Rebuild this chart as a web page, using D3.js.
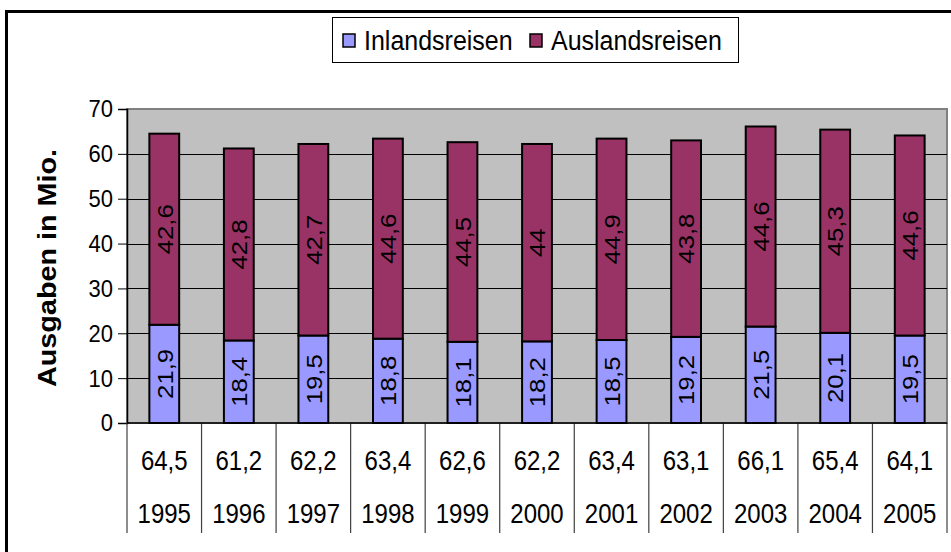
<!DOCTYPE html>
<html>
<head>
<meta charset="utf-8">
<script src="https://cdn.jsdelivr.net/npm/d3@7"></script>
<style>
  body { margin: 0; background: #fff; }
  text { font-family: Arial, "Liberation Sans", sans-serif; fill: #000; }
</style>
</head>
<body>
<div id="chart"></div>
<script>
// data
var years = ['1995', '1996', '1997', '1998', '1999', '2000', '2001', '2002', '2003', '2004', '2005'];
var inland = [21.9, 18.4, 19.5, 18.8, 18.1, 18.2, 18.5, 19.2, 21.5, 20.1, 19.5];
var ausland = [42.6, 42.8, 42.7, 44.6, 44.5, 44, 44.9, 43.8, 44.6, 45.3, 44.6];
var totals = [64.5, 61.2, 62.2, 63.4, 62.6, 62.2, 63.4, 63.1, 66.1, 65.4, 64.1];
var seriesNames = ['Inlandsreisen', 'Auslandsreisen'];
var seriesColors = ['#9999ff', '#993366'];
var yTicks = [0, 10, 20, 30, 40, 50, 60, 70];

var width = 951, height = 552;
var plot = { left: 127, right: 947, top: 109, bottom: 423 };
// the original picture is a bit stretched vertically, so is the text
var stretch = 'scale(1,1.12)';

// german decimal comma
function fmt(v) {
  return String(v).replace('.', ',');
}

var svg = d3.select('#chart')
  .append('svg')
  .attr('width', width)
  .attr('height', height);

// outer chart frame (runs off the right and bottom edge)
svg.append('rect')
  .attr('x', 6.5)
  .attr('y', 11.5)
  .attr('width', 1000)
  .attr('height', 600)
  .attr('fill', 'none')
  .attr('stroke', '#000')
  .attr('stroke-width', 3);

var yScale = d3.scaleLinear()
  .domain([0, 70])
  .range([plot.bottom, plot.top]);

// category cells for the data table
var xCells = d3.scaleBand()
  .domain(years)
  .range([plot.left, plot.right]);

// bars sit in the middle of each cell
var xBars = d3.scaleBand()
  .domain(years)
  .range([plot.left, plot.right])
  .paddingInner(0.6)
  .paddingOuter(0.3);

// plot area
svg.append('rect')
  .attr('x', plot.left)
  .attr('y', plot.top)
  .attr('width', plot.right - plot.left)
  .attr('height', plot.bottom - plot.top)
  .attr('fill', '#c0c0c0')
  .attr('stroke', '#808080')
  .attr('stroke-width', 2);

// gridlines
svg.append('g')
  .selectAll('line')
  .data(yTicks.slice(1, -1))
  .enter()
  .append('line')
  .attr('x1', plot.left)
  .attr('x2', plot.right)
  .attr('y1', function(d) { return Math.round(yScale(d)) + 0.5; })
  .attr('y2', function(d) { return Math.round(yScale(d)) + 0.5; })
  .attr('stroke', '#000')
  .attr('stroke-width', 1);

// y axis
var yAxis = d3.axisLeft(yScale)
  .tickValues(yTicks)
  .tickSize(9)
  .tickPadding(5);

var yGuide = svg.append('g')
  .attr('transform', 'translate(' + plot.left + ',0)')
  .call(yAxis);
yGuide.select('.domain').attr('stroke', '#000').attr('stroke-width', 1.5);
yGuide.selectAll('.tick line').attr('stroke', '#000');
yGuide.selectAll('.tick text')
  .attr('transform', stretch)
  .style('font-size', '22px')
  .attr('fill', '#000');

// axis title
svg.append('text')
  .attr('transform', 'translate(56,' + 268 + ') scale(1,1.15) rotate(-90)')
  .attr('text-anchor', 'middle')
  .style('font-size', '25px')
  .style('font-weight', 'bold')
  .text('Ausgaben in Mio.');

// stacked bars
var stacks = years.map(function(y, i) {
  return [
    { year: y, y0: 0, y1: inland[i], v: inland[i], s: 0 },
    { year: y, y0: inland[i], y1: inland[i] + ausland[i], v: ausland[i], s: 1 }
  ];
});
var segments = [].concat.apply([], stacks);

var myChart = svg.append('g');

myChart.selectAll('rect')
  .data(segments)
  .enter()
  .append('rect')
  .attr('x', function(d) { return xBars(d.year); })
  .attr('width', xBars.bandwidth())
  .attr('y', function(d) { return yScale(d.y1); })
  .attr('height', function(d) { return yScale(d.y0) - yScale(d.y1); })
  .attr('fill', function(d) { return seriesColors[d.s]; })
  .attr('stroke', '#000')
  .attr('stroke-width', 2);

// value labels inside the bars
myChart.selectAll('text')
  .data(segments)
  .enter()
  .append('text')
  .attr('transform', function(d) {
    var cx = xBars(d.year) + xBars.bandwidth() / 2;
    var cy = yScale((d.y0 + d.y1) / 2);
    return 'translate(' + cx + ',' + cy + ') ' + stretch + ' rotate(-90)';
  })
  .attr('text-anchor', 'middle')
  .attr('dy', '0.36em')
  .style('font-size', '23px')
  .text(function(d) { return fmt(d.v); });

// data table under the plot
var table = svg.append('g');

table.selectAll('line')
  .data(years.concat(['end']))
  .enter()
  .append('line')
  .attr('x1', function(d, i) { return i < years.length ? xCells(d) : plot.right; })
  .attr('x2', function(d, i) { return i < years.length ? xCells(d) : plot.right; })
  .attr('y1', plot.bottom)
  .attr('y2', 533)
  .attr('stroke', '#404040')
  .attr('stroke-width', 1.2);

table.append('line')
  .attr('x1', plot.left)
  .attr('x2', plot.right)
  .attr('y1', plot.bottom)
  .attr('y2', plot.bottom)
  .attr('stroke', '#000')
  .attr('stroke-width', 1.5);

table.selectAll('text.total')
  .data(totals)
  .enter()
  .append('text')
  .attr('class', 'total')
  .attr('transform', function(d, i) {
    return 'translate(' + (xCells(years[i]) + xCells.bandwidth() / 2) + ',460) ' + stretch;
  })
  .attr('dy', '0.36em')
  .attr('text-anchor', 'middle')
  .style('font-size', '24px')
  .text(function(d) { return fmt(d); });

table.selectAll('text.year')
  .data(years)
  .enter()
  .append('text')
  .attr('class', 'year')
  .attr('transform', function(d) {
    return 'translate(' + (xCells(d) + xCells.bandwidth() / 2) + ',513) ' + stretch;
  })
  .attr('dy', '0.36em')
  .attr('text-anchor', 'middle')
  .style('font-size', '24px')
  .text(function(d) { return d; });

// legend
var legend = svg.append('g');
legend.append('rect')
  .attr('x', 332.5)
  .attr('y', 17.5)
  .attr('width', 406)
  .attr('height', 45)
  .attr('fill', '#fff')
  .attr('stroke', '#000')
  .attr('stroke-width', 1);

var legendX = [343, 530];
var items = legend.selectAll('g')
  .data(seriesNames)
  .enter()
  .append('g')
  .attr('transform', function(d, i) { return 'translate(' + legendX[i] + ',40)'; });

items.append('rect')
  .attr('x', 0)
  .attr('y', -6)
  .attr('width', 12)
  .attr('height', 13)
  .attr('fill', function(d, i) { return seriesColors[i]; })
  .attr('stroke', '#000')
  .attr('stroke-width', 1.5);

items.append('text')
  .attr('transform', 'translate(' + 21 + ',0) ' + stretch)
  .attr('dy', '0.36em')
  .style('font-size', '25px')
  .text(function(d) { return d; });
</script>
</body>
</html>
